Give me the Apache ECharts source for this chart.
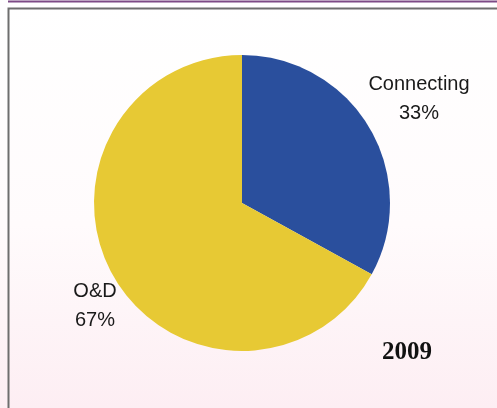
<!DOCTYPE html>
<html>
<head>
<meta charset="utf-8">
<script src="https://cdn.jsdelivr.net/npm/echarts@6/dist/echarts.min.js"></script>
<style>
  html, body { margin: 0; padding: 0; background: #ffffff; }
  #chart { width: 497px; height: 408px; }
</style>
</head>
<body>
<div id="chart"></div>
<script>
// Traffic split by passenger type
const categories = ['Connecting', 'O&D'];
const shares = [33, 67];
const sliceColors = ['#2a4f9d', '#e7c934'];
const yearLabel = '2009';

// label anchor points for each slice
const labelSpots = [[419, 99], [95, 306]];

const chart = echarts.init(document.getElementById('chart'));

chart.setOption({
  animation: false,
  graphic: [
    { type: 'rect', silent: true, z: -10,
      shape: { x: 0, y: 0, width: 497, height: 408 },
      style: { fill: new echarts.graphic.LinearGradient(0, 0, 0, 1, [
        { offset: 0, color: '#ffffff' },
        { offset: 0.55, color: '#fffbfc' },
        { offset: 1, color: '#fdeef3' }
      ]) } },
    { type: 'line', silent: true, z: -5,
      shape: { x1: 8, y1: 1.5, x2: 497, y2: 1.5 },
      style: { stroke: '#7d4a86', lineWidth: 2 } },
    { type: 'polyline', silent: true, z: -5,
      shape: { points: [[8.5, 408], [8.5, 8.5], [497, 8.5]] },
      style: { stroke: '#6e6e6e', lineWidth: 2, fill: null } },
    { type: 'text', silent: true,
      style: { text: yearLabel, x: 407, y: 353, align: 'center', verticalAlign: 'middle',
        font: 'bold 25px "Liberation Serif", serif', fill: '#111' } }
  ],
  series: [{
    type: 'pie',
    center: [242, 203],
    radius: 148,
    startAngle: 90,
    clockwise: true,
    silent: true,
    data: categories.map((c, i) => ({ name: c, value: shares[i], itemStyle: { color: sliceColors[i] } })),
    label: {
      show: true,
      position: 'outside',
      formatter: p => p.name + '\n' + p.value + '%',
      fontFamily: 'Liberation Sans, Arial, sans-serif',
      fontSize: 20,
      lineHeight: 29,
      color: '#1a1a1a',
      align: 'center',
      overflow: 'none',
      width: 160
    },
    labelLine: { show: false },
    labelLayout: p => ({
      x: labelSpots[p.dataIndex][0],
      y: labelSpots[p.dataIndex][1],
      align: 'center',
      verticalAlign: 'middle'
    })
  }]
});
</script>
</body>
</html>
